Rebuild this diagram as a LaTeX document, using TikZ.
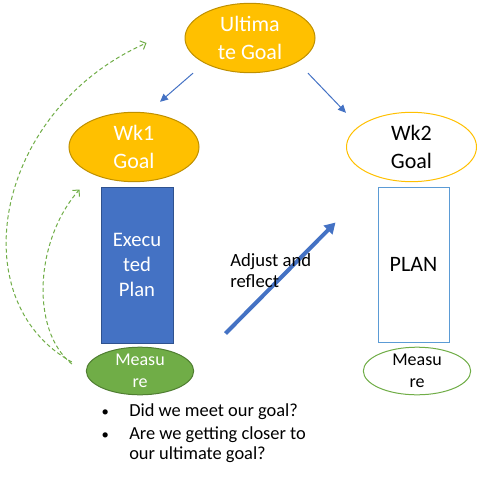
\documentclass[tikz,border=0pt]{standalone}
\usepackage{fontspec}
\setmainfont{Carlito}
\usetikzlibrary{shapes.geometric,arrows.meta,calc}
\definecolor{gold}{HTML}{FFC000}
\definecolor{goldedge}{HTML}{BF9000}
\definecolor{blu}{HTML}{4472C4}
\definecolor{bluedge}{HTML}{2F528F}
\definecolor{grn}{HTML}{70AD47}
\definecolor{grnedge}{HTML}{507E32}
\definecolor{ltblue}{HTML}{5B9BD5}
\newcommand{\bulletmark}{\makebox[21.75pt][l]{\hspace*{1pt}\fontsize{11}{11}\selectfont•}}
\begin{document}
\begin{tikzpicture}[x=0.75pt,y=-0.75pt,
  goalfill/.style={ellipse, draw=goldedge, fill=gold, text=white, line width=0.75pt, inner sep=0pt,
    minimum width=97.5pt, minimum height=52pt, align=center, font=\fontsize{16.5}{21}\selectfont},
  goalopen/.style={goalfill, draw=gold, fill=white, text=black},
  execbox/.style={rectangle, draw=bluedge, fill=blu, text=white, line width=0.75pt, inner sep=0pt,
    minimum width=54pt, minimum height=117pt, align=center, font=\fontsize{15.5}{19}\selectfont},
  planbox/.style={rectangle, draw=ltblue, fill=white, text=black, line width=0.75pt, inner sep=0pt,
    minimum width=53.25pt, minimum height=116.25pt, align=center, font=\fontsize{16.5}{20}\selectfont},
  measfill/.style={ellipse, draw=grnedge, fill=grn, text=white, line width=0.75pt, inner sep=0pt,
    minimum width=80.5pt, minimum height=34.5pt, align=center, font=\fontsize{13.5}{16.5}\selectfont},
  measopen/.style={measfill, draw=grn, fill=white, text=black},
  thinarrow/.style={draw=blu, line width=0.75pt, -{Triangle[length=6pt,width=5.5pt]}},
  thickarrow/.style={draw=blu, line width=3pt, -{Triangle[length=8pt,width=9pt]}},
  dasharrow/.style={draw=grn, line width=0.75pt, dash pattern=on 3pt off 2pt,
    -{Straight Barb[length=3.5pt,width=7pt]}},
  plaintext/.style={inner sep=0pt, text=black, align=left}
]
\useasboundingbox (0,0) rectangle (477,477);

\node[goalfill] (ult) at (250,38) {Ultima\\te Goal};
\node[goalfill] (wk1) at (134,147) {Wk1\\Goal};
\node[goalopen] (wk2) at (411.5,147) {Wk2\\Goal};
\node[execbox] (exec) at (137,265) {Execu\\ted\\Plan};
\node[measfill] (m1) at (140,371) {Measu\\re};
\node[planbox] (plan) at (413.5,264.5) {PLAN};
\node[measopen] (m2) at (417,371) {Measu\\re};

\draw[thinarrow] ($(ult.south)+(-57,0)$) -- ($(wk1.north)+(26,-10)$);
\draw[thinarrow] ($(ult.south)+(58,0)$) -- ($(wk2.north)+(-65.5,1)$);

\draw[thickarrow] ($(exec.south east)+(52,-10)$) -- ($(plan.north west)+(-42,36)$);

\draw[dasharrow] ($(m1.west)+(-14,-9)$) .. controls (-40,300) and (-5,110) .. ($(ult.west)+(-38,5)$);
\draw[dasharrow] ($(m1.west)+(-14,-7)$) .. controls (30,330) and (35,240) .. ($(exec.north west)+(-21,3)$);

\node[plaintext, anchor=north west, font=\fontsize{14}{16}\selectfont] (adj) at (230,253) {Adjust and\\reflect};

\node[plaintext, anchor=north west, font=\fontsize{13.8}{15.5}\selectfont] (bul) at (100,403)
  {\bulletmark Did we meet our goal?\\[1.75pt]
   \bulletmark Are we getting closer to\\
   \hspace*{21.75pt}our ultimate goal?};
\end{tikzpicture}
\end{document}
